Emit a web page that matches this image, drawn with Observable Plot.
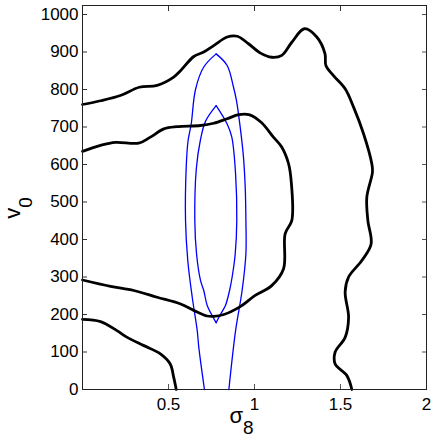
<!DOCTYPE html>
<html><head><meta charset="utf-8">
<script src="https://cdn.jsdelivr.net/npm/d3@7"></script>
<script src="https://cdn.jsdelivr.net/npm/@observablehq/plot@0.6"></script>
<style>body{margin:0;background:#fff}#chart{width:436px;height:440px}</style>
</head><body><div id="chart"></div>
<script>
const xTicks = [0.5, 1, 1.5, 2];
const yTicks = [0, 100, 200, 300, 400, 500, 600, 700, 800, 900, 1000];

// black contours (thick)
const blackOuterTop = [[0,760],[0.105,770],[0.22,784],[0.33,806],[0.434,811],[0.53,833],[0.57,850],[0.647,888],[0.705,900],[0.763,917],[0.841,940],[0.9,942],[0.965,922],[1.035,897],[1.10,886],[1.159,891],[1.217,926],[1.29,962],[1.362,940],[1.41,895],[1.415,864],[1.459,837],[1.527,802],[1.576,753],[1.634,682],[1.682,602],[1.686,580],[1.653,513],[1.659,451],[1.678,388],[1.624,344],[1.547,300],[1.527,260],[1.547,193],[1.527,139],[1.469,100],[1.469,68],[1.537,37],[1.566,0]];
const blackOuterLow = [[0,187],[0.105,181],[0.2,157],[0.26,139],[0.357,117],[0.453,95],[0.51,68],[0.53,33],[0.545,0]];
const blackInner = [[0,635],[0.105,651],[0.192,659],[0.327,657],[0.395,673],[0.473,695],[0.55,701],[0.686,704],[0.763,710],[0.841,722],[0.909,733],[0.967,733],[1.04,712],[1.11,673],[1.159,646],[1.198,602],[1.213,557],[1.217,451],[1.178,415],[1.169,322],[1.10,277],[1.004,251],[0.917,221],[0.822,200],[0.763,195],[0.725,196],[0.647,211],[0.57,228],[0.434,246],[0.298,264],[0.163,275],[0,292]];

// blue contours (thin)
const blueOuterLeft = [[0.709,0],[0.676,113],[0.667,157],[0.638,246],[0.612,344],[0.599,451],[0.603,593],[0.614,664],[0.632,708],[0.657,800],[0.705,860],[0.777,895]];
const blueOuterRight = [[0.777,895],[0.841,864],[0.878,806],[0.895,771],[0.917,699],[0.936,619],[0.946,539],[0.95,451],[0.95,362],[0.928,264],[0.89,157],[0.851,0]];
const blueInnerLeft = [[0.777,757],[0.715,715],[0.685,664],[0.662,590],[0.653,451],[0.663,362],[0.686,291],[0.705,264],[0.725,224],[0.754,197],[0.777,178]];
const blueInnerRight = [[0.777,178],[0.798,197],[0.831,224],[0.855,264],[0.87,300],[0.888,362],[0.897,451],[0.89,575],[0.868,673],[0.841,708],[0.777,757]];

const px = d => d[0], py = d => d[1];
const fmt = d => String(d);
const font = "'Liberation Sans', Arial, sans-serif";

const blue = {x: px, y: py, stroke: "#0000ff", strokeWidth: 1.3, curve: "catmull-rom"};
const black = {x: px, y: py, stroke: "#000", strokeWidth: 2.8, curve: "catmull-rom"};

const svg = Plot.plot({
  width: 436, height: 440,
  marginLeft: 82, marginRight: 10, marginTop: 5, marginBottom: 51,
  style: {fontFamily: font, fontSize: "17px", color: "#000", background: "#fff"},
  x: {domain: [0, 2]},
  y: {domain: [0, 1024]},
  marks: [
    Plot.line(blueOuterLeft, blue),
    Plot.line(blueOuterRight, blue),
    Plot.line(blueInnerLeft, blue),
    Plot.line(blueInnerRight, blue),
    Plot.line(blackOuterTop, black),
    Plot.line(blackOuterLow, black),
    Plot.line(blackInner, black),
    Plot.axisX({ticks: xTicks, tickSize: -5, tickPadding: 13, tickFormat: fmt, label: null, stroke: "#555"}),
    Plot.axisX({anchor: "top", ticks: xTicks, tickSize: -5, tickFormat: () => "", label: null, stroke: "#333"}),
    Plot.axisY({ticks: yTicks, tickSize: -5, tickPadding: 9, tickFormat: fmt, label: null, stroke: "#333"}),
    Plot.axisY({anchor: "right", ticks: yTicks, tickSize: -5, tickFormat: () => "", label: null, stroke: "#555"}),
    Plot.frame({stroke: "#222"})
  ]
});

const s = d3.select(svg);
const xl = s.append("text").attr("x", 241.5).attr("y", 422.7)
  .attr("font-family", font).attr("fill", "#000");
xl.append("tspan").attr("font-size", 22).text("σ");
xl.append("tspan").attr("font-size", 19).attr("dy", 11.3).text("8");

const yl = s.append("text").attr("transform", "translate(19.5,208) rotate(-90)")
  .attr("font-family", font).attr("fill", "#000");
yl.append("tspan").attr("font-size", 22).text("v");
yl.append("tspan").attr("font-size", 19).attr("dy", 12).text("0");

document.getElementById("chart").appendChild(svg);
</script>
</body></html>
